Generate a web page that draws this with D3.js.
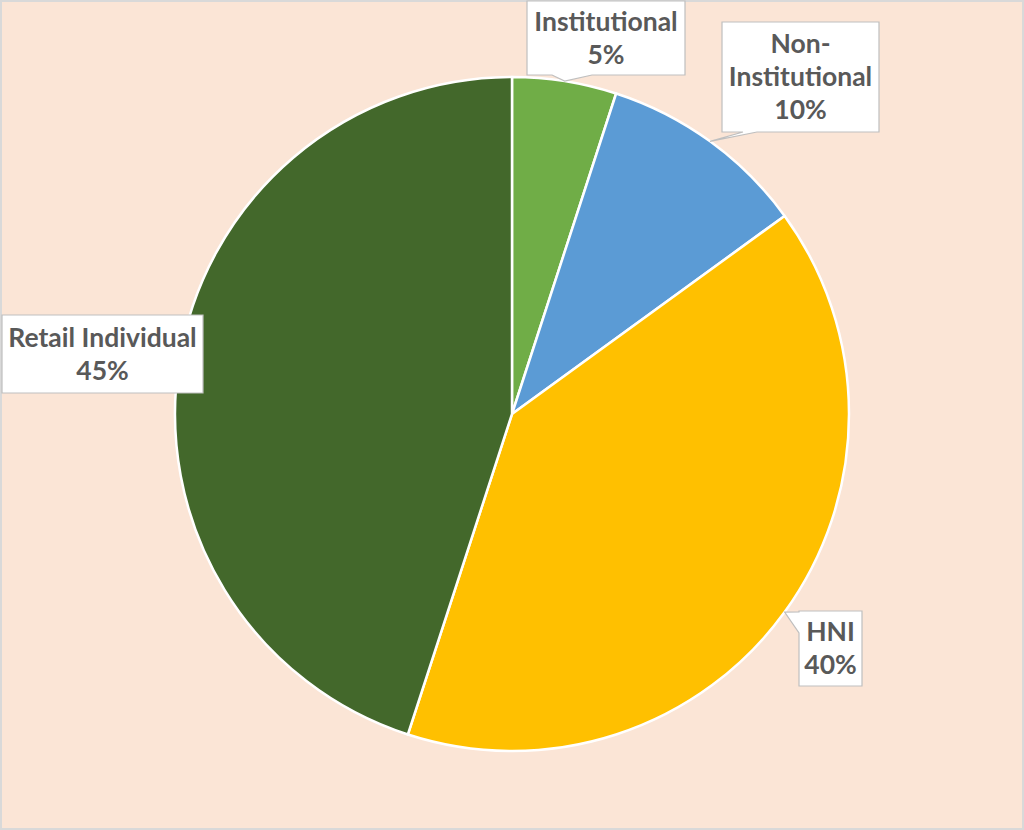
<!DOCTYPE html>
<html>
<head>
<meta charset="utf-8">
<script src="https://cdn.jsdelivr.net/npm/d3@7"></script>
<style>
  html, body { margin: 0; padding: 0; background: #fff; }
  svg { display: block; }
</style>
</head>
<body>
<div id="chart"></div>
<script>
// slice names and shares, clockwise from 12 o'clock
const categories = ["Institutional", "Non-Institutional", "HNI", "Retail Individual"];
const shares = [5, 10, 40, 45];
// how each label is broken into lines
const labelLines = [["Institutional"], ["Non-", "Institutional"], ["HNI"], ["Retail Individual"]];

const colors = ["#70ad47", "#5b9bd5", "#ffc000", "#43682b"];

// callout boxes (left, top, width, height), which side the pointer leaves from,
// where along that side (a0..a1) and the angle (deg) on the rim it points to
const boxes = [
  {x: 527, y: 1, w: 158, h: 74, side: "bottom", a0: 25, a1: 65, tip: 9},
  {x: 722, y: 22, w: 157, h: 110, side: "bottom", a0: 21, a1: 35, tip: 36},
  {x: 799, y: 611, w: 63, h: 75, side: "left", a0: 1, a1: 22, tip: 126},
  {x: 2, y: 315, w: 201, h: 78, side: null}
];

const width = 1024, height = 830;
const cx = 512, cy = 414, radius = 337;

const svg = d3.select("#chart").append("svg")
  .attr("width", width)
  .attr("height", height);

// background with light grey frame
svg.append("rect")
  .attr("x", 1).attr("y", 1)
  .attr("width", width - 2).attr("height", height - 2)
  .attr("fill", "#fbe5d6")
  .attr("stroke", "#d9d9d9")
  .attr("stroke-width", 2);

const data = categories.map((c, i) => ({name: c, value: shares[i], lines: labelLines[i], box: boxes[i], color: colors[i]}));
const total = d3.sum(shares);

const pie = d3.pie().sort(null).value(d => d.value);
const arcs = pie(data);

const arc = d3.arc().innerRadius(0).outerRadius(radius);

const g = svg.append("g").attr("transform", `translate(${cx},${cy})`);

g.selectAll("path.slice")
  .data(arcs)
  .join("path")
  .attr("class", "slice")
  .attr("d", arc)
  .attr("fill", d => d.data.color)
  .attr("stroke", "#fff")
  .attr("stroke-width", 2.5)
  .attr("stroke-linejoin", "round");

// callouts: white box with a pointer towards the rim
arcs.forEach(a => {
  const b = a.data.box;
  const x0 = b.x, x1 = b.x + b.w, y0 = b.y, y1 = b.y + b.h;
  let path;
  if (b.side) {
    const ang = b.tip * Math.PI / 180;
    const tx = cx + radius * Math.sin(ang), ty = cy - radius * Math.cos(ang);
    if (b.side === "bottom") {
      path = `M${x0},${y0} L${x1},${y0} L${x1},${y1} L${x0 + b.a1},${y1} L${tx},${ty} L${x0 + b.a0},${y1} L${x0},${y1} Z`;
    } else {
      path = `M${x0},${y0} L${x1},${y0} L${x1},${y1} L${x0},${y1} L${x0},${y0 + b.a1} L${tx},${ty} L${x0},${y0 + b.a0} Z`;
    }
  } else {
    path = `M${x0},${y0} L${x1},${y0} L${x1},${y1} L${x0},${y1} Z`;
  }

  svg.append("path")
    .attr("d", path)
    .attr("fill", "#fff")
    .attr("stroke", "#bfbfbf")
    .attr("stroke-width", 1.2)
    .attr("stroke-linejoin", "miter");

  const lines = a.data.lines.concat([d3.format(".0%")(a.data.value / total)]);
  const lh = 33;
  const startY = b.y + b.h / 2 - (lines.length - 1) * lh / 2;
  const t = svg.append("text")
    .attr("text-anchor", "middle")
    .attr("font-family", "Lato, 'Liberation Sans', sans-serif")
    .attr("font-weight", "bold")
    .attr("font-size", "26.5px")
    .attr("fill", "#595959");
  lines.forEach((l, k) => {
    t.append("tspan")
      .attr("x", b.x + b.w / 2)
      .attr("y", startY + k * lh)
      .attr("dy", "0.35em")
      .text(l);
  });
});
</script>
</body>
</html>
